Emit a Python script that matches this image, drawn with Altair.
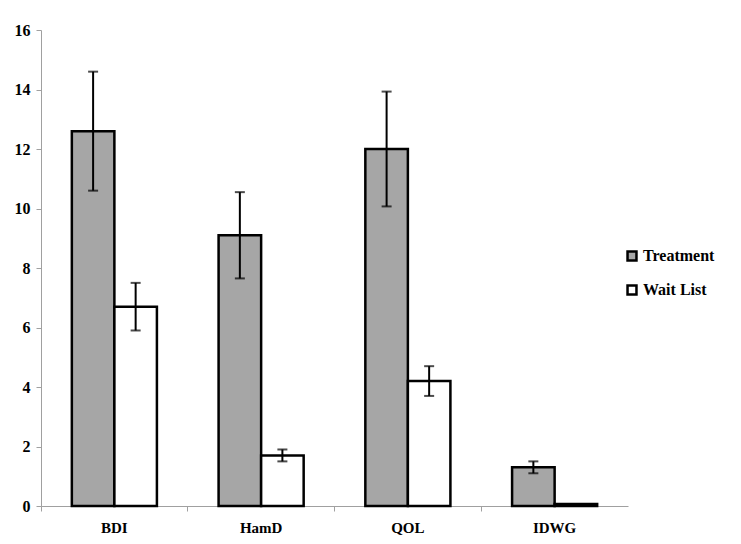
import altair as alt
import pandas as pd

categories = ["BDI", "HamD", "QOL", "IDWG"]
groups = ["Treatment", "Wait List"]
treatment_mean = [12.6, 9.1, 12.0, 1.3]
treatment_err = [2.0, 1.45, 1.93, 0.2]
waitlist_mean = [6.7, 1.7, 4.2, 0.07]
waitlist_err = [0.8, 0.2, 0.5, 0.0]
y_ticks = [0, 2, 4, 6, 8, 10, 12, 14, 16]

rows = []
for i, c in enumerate(categories):
    rows.append({"cat": c, "group": groups[0], "mean": treatment_mean[i], "err": treatment_err[i]})
    rows.append({"cat": c, "group": groups[1], "mean": waitlist_mean[i], "err": waitlist_err[i]})
df = pd.DataFrame(rows)
df["lo"] = df["mean"] - df["err"]
df["hi"] = df["mean"] + df["err"]

FONT = "Liberation Serif"

x_enc = alt.X(
    "cat:N", sort=categories, title=None,
    scale=alt.Scale(paddingInner=0, paddingOuter=0),
    axis=alt.Axis(labelAngle=0, bandPosition=0, tickSize=5,
                  labelPadding=9, domainColor="#a0a0a0", tickColor="#a0a0a0",
                  labelFont=FONT, labelFontWeight="bold", labelFontSize=15,
                  labelColor="black"),
)
xoff = alt.XOffset("group:N", sort=groups,
                   scale=alt.Scale(paddingInner=0, paddingOuter=0.725))

base = alt.Chart(df).encode(x=x_enc, xOffset=xoff)

bars = base.mark_bar(stroke="black", strokeWidth=2.5).encode(
    y=alt.Y("mean:Q", title=None,
            scale=alt.Scale(domain=[0, 16], nice=False),
            axis=alt.Axis(values=y_ticks, grid=False, tickSize=5, labelPadding=6,
                          domainColor="#a0a0a0", tickColor="#a0a0a0",
                          labelFont=FONT, labelFontWeight="bold", labelFontSize=16,
                          labelColor="black")),
    color=alt.Color("group:N", sort=groups,
                    scale=alt.Scale(domain=groups, range=["#a6a6a6", "#ffffff"]),
                    legend=alt.Legend(title=None, orient="none", legendX=583, legendY=218,
                                      symbolType="square", symbolSize=80,
                                      symbolStrokeColor="black", symbolStrokeWidth=2.5,
                                      labelFont=FONT, labelFontWeight="bold",
                                      labelFontSize=16, labelColor="black",
                                      rowPadding=14, labelOffset=3)),
)

eb = base.transform_filter("datum.err > 0")
rules = eb.mark_rule(color="black", strokeWidth=2).encode(y="lo:Q", y2="hi:Q")
caps_lo = eb.mark_tick(color="black", thickness=2, size=10).encode(y="lo:Q")
caps_hi = eb.mark_tick(color="black", thickness=2, size=10).encode(y="hi:Q")

chart = alt.layer(bars, rules, caps_lo, caps_hi).properties(
    width=587, height=476,
    padding={"left": 6, "top": 14, "right": 5, "bottom": 5},
).configure_view(stroke=None)

chart.save("out.html", embed_options={"renderer": "svg", "actions": False})
